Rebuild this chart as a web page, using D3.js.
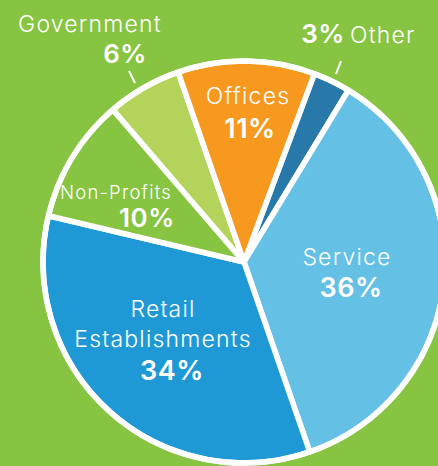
<!DOCTYPE html>
<html>
<head>
<meta charset="utf-8">
<script src="https://cdn.jsdelivr.net/npm/d3@7"></script>
<style>
  html, body { margin: 0; padding: 0; background: #87c442; }
  svg { display: block; }
  .lbl { fill: #fff; font-family: Inter, "Open Sans", sans-serif; font-weight: 300; letter-spacing: 1.2px; }
  .pct { fill: #fff; font-family: Inter, "Open Sans", sans-serif; font-weight: 600; letter-spacing: 0.5px; }
</style>
</head>
<body>
<div id="chart"></div>
<script>
// data
const categories = ["Other", "Service", "Retail Establishments", "Non-Profits", "Government", "Offices"];
const shares = [3, 36, 34, 10, 6, 11];
const colors = ["#2879aa", "#64c0e5", "#1f99d5", "#87c442", "#b3d35b", "#f7991f"];

const svgWidth = 438;
const svgHeight = 466;
const cx = 244, cy = 262, radius = 201;
const startDeg = 20.5;

const svg = d3.select("#chart")
  .append("svg")
  .attr("width", svgWidth)
  .attr("height", svgHeight);

svg.append("rect")
  .attr("width", svgWidth)
  .attr("height", svgHeight)
  .attr("fill", "#87c442");

const pie = d3.pie()
  .sort(null)
  .value(d => d)
  .startAngle(startDeg * Math.PI / 180)
  .endAngle(startDeg * Math.PI / 180 + 2 * Math.PI);

const arc = d3.arc().innerRadius(0).outerRadius(radius);

const g = svg.append("g")
  .attr("transform", `translate(${cx}, ${cy})`);

g.selectAll("path")
  .data(pie(shares))
  .enter()
  .append("path")
  .attr("d", arc)
  .attr("fill", (d, i) => colors[i])
  .attr("stroke", "#fff")
  .attr("stroke-width", 5.5)
  .attr("stroke-linejoin", "round");

// outer ring
g.append("circle")
  .attr("r", radius)
  .attr("fill", "none")
  .attr("stroke", "#fff")
  .attr("stroke-width", 5.5);

// labels (positions in page pixels)
const labels = [
  {name: ["Offices"], x: 248, y: 104, pctY: 138, pctX: 250, size: 23, psize: 27},
  {name: ["Service"], x: 347, y: 265, pctY: 297, pctX: 351, size: 23, psize: 27},
  {name: ["Retail", "Establishments"], x: 163, y: 317, pctY: 380, pctX: 172, size: 23, psize: 27, lh: 30},
  {name: ["Non-Profits"], x: 116, y: 199, pctY: 227, pctX: 147, size: 18.5, psize: 26},
  {name: ["Government"], x: 90, y: 32, pctY: 63, pctX: 125, size: 23, psize: 26}
];
const pctOf = {"Offices": 11, "Service": 36, "Retail": 34, "Non-Profits": 10, "Government": 6};

labels.forEach(l => {
  l.name.forEach((line, k) => {
    svg.append("text")
      .attr("class", "lbl")
      .attr("x", l.x)
      .attr("y", l.y + k * (l.lh || 0))
      .attr("text-anchor", "middle")
      .attr("font-size", l.size)
      .text(line);
  });
  svg.append("text")
    .attr("class", "pct")
    .attr("x", l.pctX)
    .attr("y", l.pctY)
    .attr("text-anchor", "middle")
    .attr("font-size", l.psize)
    .text(pctOf[l.name[0]] + "%");
});

// Other label outside
svg.append("text")
  .attr("class", "pct")
  .attr("x", 323)
  .attr("y", 43)
  .attr("text-anchor", "middle")
  .attr("font-size", 26)
  .text(shares[0] + "%");
svg.append("text")
  .attr("class", "lbl")
  .attr("x", 350)
  .attr("y", 43)
  .attr("font-size", 23)
  .text(categories[0]);

// leader lines
svg.append("line")
  .attr("x1", 129).attr("y1", 71).attr("x2", 135).attr("y2", 83)
  .attr("stroke", "#fff").attr("stroke-width", 2);
svg.append("line")
  .attr("x1", 341).attr("y1", 61).attr("x2", 336).attr("y2", 74)
  .attr("stroke", "#fff").attr("stroke-width", 2);
</script>
</body>
</html>
